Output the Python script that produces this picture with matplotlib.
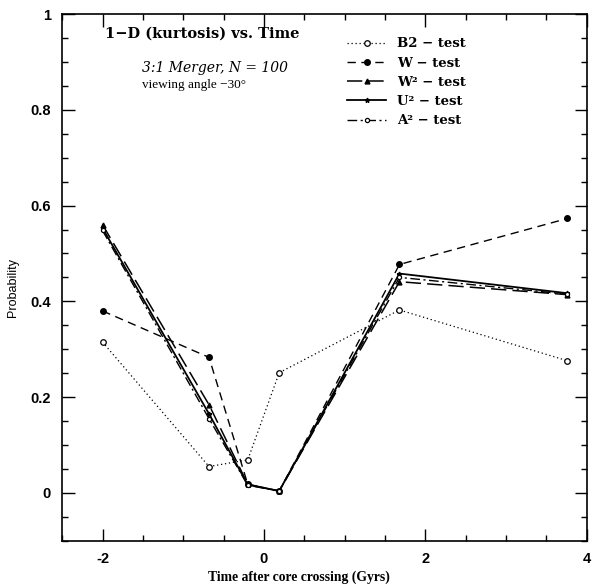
#%%
# 1-D kurtosis probability vs time, 3:1 merger
import matplotlib
matplotlib.use('Agg')
import matplotlib.pyplot as plt
from matplotlib.legend_handler import HandlerLine2D
from matplotlib.ticker import MultipleLocator, FixedLocator

#%%
# values
times = [-2.0, -0.68, -0.2, 0.19, 1.68, 3.76]
b2 = [0.315, 0.055, 0.069, 0.251, 0.382, 0.276]
w = [0.380, 0.283, 0.018, 0.004, 0.477, 0.573]
w2 = [0.560, 0.184, 0.018, 0.004, 0.441, 0.414]
u2 = [0.553, 0.165, 0.017, 0.004, 0.458, 0.417]
a2 = [0.548, 0.155, 0.016, 0.004, 0.450, 0.415]
labels = ['B2 \u2212 test', 'W \u2212 test', 'W\u00b2 \u2212 test',
          'U\u00b2 \u2212 test', 'A\u00b2 \u2212 test']
xticks = [-2, 0, 2, 4]
xtick_labels = ['-2', '0', '2', '4']
yticks = [0, 0.2, 0.4, 0.6, 0.8, 1]
ytick_labels = ['0', '0.2', '0.4', '0.6', '0.8', '1']


class EndMarker(HandlerLine2D):
    # put the legend marker at the right end of the line sample
    def create_artists(self, legend, orig_handle, xdescent, ydescent,
                       width, height, fontsize, trans):
        arts = super().create_artists(legend, orig_handle, xdescent, ydescent,
                                      width, height, fontsize, trans)
        if len(arts) > 1:
            arts[1].set_xdata([width - xdescent])
        return arts


#%%
serif = 'DejaVu Serif'
fig = plt.figure(figsize=(5.92, 5.84), dpi=100)
ax = fig.add_axes([0.105, 0.074, 0.886, 0.902])

ax.plot(times, b2, color='black', ls=(0, (1, 2.2)), lw=0.9,
        marker='o', ms=4, mfc='white', mec='black', mew=0.9, label=labels[0])
ax.plot(times, w, color='black', ls=(0, (6, 4)), lw=1.0,
        marker='o', ms=4, mfc='black', mec='black', label=labels[1])
ax.plot(times, w2, color='black', ls=(0, (10, 4)), lw=1.1,
        marker='^', ms=3.5, mfc='black', mec='black', label=labels[2])
ax.plot(times, u2, color='black', ls='-', lw=1.3,
        marker='*', ms=3.5, mfc='black', mec='black', label=labels[3])
ax.plot(times, a2, color='black', ls=(0, (7, 2.5, 1.5, 2.5)), lw=1.0,
        marker='o', ms=3, mfc='white', mec='black', mew=0.9, label=labels[4])

ax.set_xlim(-2.5, 4)
ax.set_ylim(-0.1, 1)
ax.xaxis.set_major_locator(FixedLocator(xticks))
ax.set_xticklabels(xtick_labels)
ax.xaxis.set_minor_locator(MultipleLocator(0.5))
ax.yaxis.set_major_locator(FixedLocator(yticks))
ax.set_yticklabels(ytick_labels)
ax.yaxis.set_minor_locator(MultipleLocator(0.05))
ax.tick_params(which='both', direction='in', top=True, right=True, width=1.0)
ax.tick_params(which='major', length=9, pad=8)
ax.tick_params(which='minor', length=4.5)
for lab in ax.get_xticklabels() + ax.get_yticklabels():
    lab.set_fontfamily('Liberation Sans')
    lab.set_fontweight('bold')
    lab.set_fontsize(10.5)
for sp in ax.spines.values():
    sp.set_linewidth(1.2)

ax.set_xlabel('Time after core crossing (Gyrs)', fontfamily='Liberation Serif',
              fontweight='bold', fontsize=9.8)
ax.xaxis.set_label_coords(0.451, -0.056)
ax.set_ylabel('Probability', fontfamily='Liberation Sans', fontsize=9)
ax.yaxis.set_label_coords(-0.082, 0.48)

ax.text(0.082, 0.962, '1\u2212D (kurtosis) vs. Time', transform=ax.transAxes,
        fontfamily=serif, fontweight='bold', fontsize=10.5, va='center')
ax.text(0.152, 0.898, '3:1 Merger, N = 100', transform=ax.transAxes,
        fontfamily=serif, fontstyle='italic', fontsize=10, va='center')
ax.text(0.152, 0.865, 'viewing angle \u221230\u00b0', transform=ax.transAxes,
        fontfamily='Liberation Serif', fontsize=9.5, va='center')

leg = ax.legend(loc='upper left', bbox_to_anchor=(0.525, 0.973), frameon=False,
                numpoints=1, handlelength=3.0, handletextpad=0.8,
                labelspacing=0.47, borderpad=0.2,
                handler_map={plt.Line2D: EndMarker()},
                prop={'family': serif, 'weight': 'bold', 'size': 9.5})

fig.savefig('out.png', dpi=100)
